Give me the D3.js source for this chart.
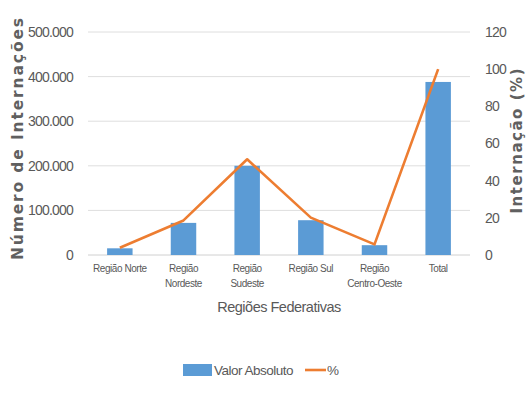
<!DOCTYPE html>
<html><head><meta charset="utf-8">
<script src="https://cdn.jsdelivr.net/npm/d3@7"></script>
<style>
body{margin:0;background:#fff;}
text{font-family:"Liberation Sans Narrow","Arial Narrow","Liberation Sans",sans-serif;fill:#595959;}
</style></head><body>
<svg id="c" width="528" height="405"></svg>
<script>
const categories = [["Região Norte"],["Região","Nordeste"],["Região","Sudeste"],["Região Sul"],["Região","Centro-Oeste"],["Total"]];
const catKeys = ["Norte","Nordeste","Sudeste","Sul","Centro-Oeste","Total"];
const absValues = [15000, 72000, 200000, 78000, 22000, 388000];
const pctValues = [3.9, 18.6, 51.5, 20.1, 5.7, 100];
const leftTicks = [0,100000,200000,300000,400000,500000];
const rightTicks = [0,20,40,60,80,100,120];

const svg = d3.select("#c");
const m = {l:88, r:470, t:32, b:255};
const x = d3.scaleBand().domain(catKeys).range([m.l,m.r]).paddingInner(0.6).paddingOuter(0.3);
const yL = d3.scaleLinear().domain([0,500000]).range([m.b,m.t]);
const yR = d3.scaleLinear().domain([0,120]).range([m.b,m.t]);
const fmt = v => v===0 ? "0" : d3.format(",")(v).replace(/,/g,".");

// gridlines
svg.append("g").selectAll("line").data(leftTicks).join("line")
  .attr("x1",m.l).attr("x2",m.r).attr("y1",d=>yL(d)).attr("y2",d=>yL(d))
  .attr("stroke",d=>d===0?"#d0d0d0":"#dedede").attr("stroke-width",1);

// left axis
const gl = svg.append("g").attr("transform",`translate(${m.l},0)`)
  .call(d3.axisLeft(yL).tickValues(leftTicks).tickFormat(fmt).tickSize(0).tickPadding(15));
gl.select(".domain").remove();
gl.selectAll("text").style("font-size","14px").style("letter-spacing","-0.8px").style("fill","#595959").style("font-family",null);

// right axis
const gr = svg.append("g").attr("transform",`translate(${m.r},0)`)
  .call(d3.axisRight(yR).tickValues(rightTicks).tickSize(0).tickPadding(15));
gr.select(".domain").remove();
gr.selectAll("text").style("font-size","14px").style("letter-spacing","-0.8px").style("fill","#595959").style("font-family",null);

// bars
svg.append("g").selectAll("rect").data(absValues).join("rect")
  .attr("x",(d,i)=>x(catKeys[i])).attr("width",x.bandwidth())
  .attr("y",d=>yL(d)).attr("height",d=>yL(0)-yL(d)).attr("fill","#5b9bd5");

// line
const line = d3.line().x((d,i)=>x(catKeys[i])+x.bandwidth()/2).y(d=>yR(d));
svg.append("path").datum(pctValues).attr("d",line).attr("fill","none")
  .attr("stroke","#ed7d31").attr("stroke-width",2.6).attr("stroke-linejoin","round");

// x labels
const xl = svg.append("g");
categories.forEach((lines,i)=>{
  const cx = x(catKeys[i])+x.bandwidth()/2;
  const t = xl.append("text").attr("x",cx).attr("y",272)
    .attr("text-anchor","middle").style("font-size","10px").style("letter-spacing","-0.45px");
  lines.forEach((s,j)=>t.append("tspan").attr("x",cx).attr("dy",j?15:0).text(s));
});

// axis titles
svg.append("text").attr("x",(m.l+m.r)/2).attr("y",312).attr("text-anchor","middle")
  .style("font-size","14.5px").style("letter-spacing","-0.5px").text("Regiões Federativas");
svg.append("text").attr("transform","translate(23,139) rotate(-90)").attr("text-anchor","middle")
  .attr("textLength",242).attr("lengthAdjust","spacing")
  .style("font-size","15.5px").style("font-weight","bold").style("font-family","'DejaVu Sans',sans-serif")
  .style("fill","#606060")
  .text("Número de Internações");
svg.append("text").attr("transform","translate(522,141) rotate(-90)").attr("text-anchor","middle")
  .attr("textLength",145).attr("lengthAdjust","spacing")
  .style("font-size","15px").style("font-weight","bold").style("font-family","'DejaVu Sans',sans-serif")
  .style("fill","#606060")
  .text("Internação (%)");

// legend
const lg = svg.append("g");
lg.append("rect").attr("x",183).attr("y",364).attr("width",29).attr("height",12).attr("fill","#5b9bd5");
lg.append("text").attr("x",214).attr("y",375).style("font-size","13.5px").style("letter-spacing","-0.5px").text("Valor Absoluto");
lg.append("line").attr("x1",305).attr("x2",326).attr("y1",370).attr("y2",370).attr("stroke","#ed7d31").attr("stroke-width",2.6);
lg.append("text").attr("x",327).attr("y",375).style("font-size","13.5px").style("letter-spacing","-0.5px").text("%");
</script></body></html>
